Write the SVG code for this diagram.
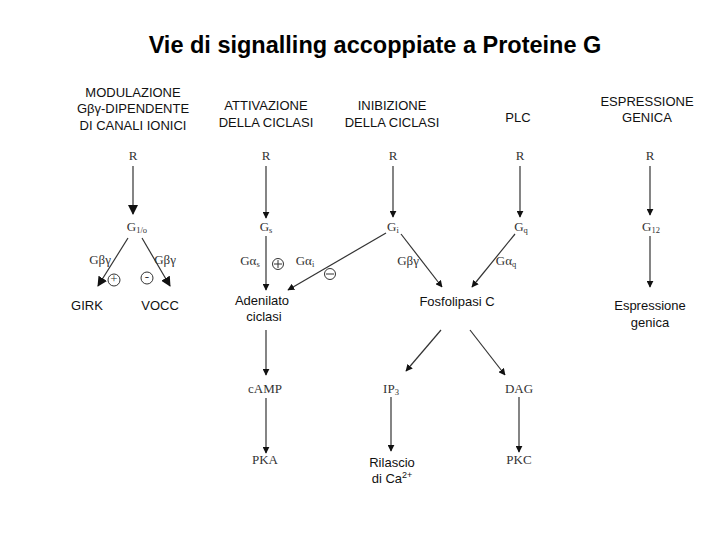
<svg xmlns="http://www.w3.org/2000/svg" width="720" height="540" viewBox="0 0 720 540">
<style>
.t{font-family:"Liberation Sans",Arial,sans-serif;font-size:23.5px;font-weight:bold;fill:#000}
.h{font-family:"Liberation Sans",Arial,sans-serif;font-size:13px;fill:#111;text-anchor:middle}
.s{font-family:"Liberation Serif","Times New Roman",serif;font-size:13px;fill:#333;text-anchor:middle}
.sub{font-size:8.5px}
.c{fill:none;stroke:#333;stroke-width:1}
.l{stroke:#333;stroke-width:1.2;fill:none}
</style>
<defs>
<marker id="ah" viewBox="0 0 10 10" refX="9" refY="5" markerWidth="7" markerHeight="7" markerUnits="userSpaceOnUse" orient="auto">
<path d="M0,0 L10,5 L0,10 z" fill="#111"/>
</marker>
<marker id="ahb" viewBox="0 0 10 10" refX="9" refY="5" markerWidth="10" markerHeight="10" markerUnits="userSpaceOnUse" orient="auto">
<path d="M0,0 L10,5 L0,10 z" fill="#111"/>
</marker>
</defs>
<rect width="720" height="540" fill="#fff"/>
<text class="t" x="375" y="53" text-anchor="middle">Vie di signalling accoppiate a Proteine G</text>

<g id="headers">
<text class="h" x="133" y="97">MODULAZIONE</text>
<text class="h" x="133" y="113">Gβγ-DIPENDENTE</text>
<text class="h" x="133" y="130">DI CANALI IONICI</text>
<text class="h" x="266" y="110">ATTIVAZIONE</text>
<text class="h" x="266" y="127">DELLA CICLASI</text>
<text class="h" x="392" y="110">INIBIZIONE</text>
<text class="h" x="392" y="127">DELLA CICLASI</text>
<text class="h" x="518" y="122">PLC</text>
<text class="h" x="647" y="106">ESPRESSIONE</text>
<text class="h" x="647" y="122">GENICA</text>
</g>

<g id="connectors">
<line class="l" x1="133" y1="166" x2="133" y2="214" marker-end="url(#ahb)"/>
<line class="l" x1="128" y1="238" x2="98" y2="286" marker-end="url(#ahb)"/>
<line class="l" x1="142" y1="238" x2="170" y2="286" marker-end="url(#ahb)"/>
<line class="l" x1="266" y1="166" x2="266" y2="218" marker-end="url(#ah)"/>
<line class="l" x1="266" y1="236" x2="266" y2="290" marker-end="url(#ah)"/>
<line class="l" x1="266" y1="330" x2="266" y2="375" marker-end="url(#ah)"/>
<line class="l" x1="266" y1="398" x2="266" y2="453" marker-end="url(#ah)"/>
<line class="l" x1="393" y1="166" x2="393" y2="217" marker-end="url(#ah)"/>
<line class="l" x1="386" y1="233" x2="288" y2="290" marker-end="url(#ah)"/>
<line class="l" x1="401" y1="234" x2="442" y2="287" marker-end="url(#ah)"/>
<line class="l" x1="520" y1="166" x2="520" y2="217" marker-end="url(#ah)"/>
<line class="l" x1="515" y1="234" x2="472" y2="287" marker-end="url(#ah)"/>
<line class="l" x1="441" y1="330" x2="406" y2="371" marker-end="url(#ah)"/>
<line class="l" x1="470" y1="330" x2="505" y2="375" marker-end="url(#ah)"/>
<line class="l" x1="391" y1="397" x2="391" y2="451" marker-end="url(#ah)"/>
<line class="l" x1="519" y1="397" x2="519" y2="452" marker-end="url(#ah)"/>
<line class="l" x1="650" y1="166" x2="650" y2="215" marker-end="url(#ah)"/>
<line class="l" x1="650" y1="236" x2="650" y2="287" marker-end="url(#ah)"/>
</g>

<g id="col1">
<text class="s" x="133" y="160">R</text>
<text class="s" x="137" y="231">G<tspan class="sub" dy="2">1/o</tspan></text>
<text class="s" x="100" y="264" font-size="12">Gβγ</text>
<text class="s" x="165" y="264" font-size="12">Gβγ</text>
<circle class="c" cx="114" cy="280" r="6"/>
<text class="s" x="114" y="283" font-size="8">+</text>
<circle class="c" cx="147" cy="278" r="6"/>
<text class="s" x="147" y="281" font-size="10">-</text>
<text class="h" x="87" y="310">GIRK</text>
<text class="h" x="160" y="310">VOCC</text>
</g>

<g id="col2">
<text class="s" x="266" y="160">R</text>
<text class="s" x="266" y="231">G<tspan class="sub" dy="2">s</tspan></text>
<text class="s" x="250" y="265">Gα<tspan class="sub" dy="2">s</tspan></text>
<circle class="c" cx="278" cy="264" r="5.5"/>
<path d="M274,264 H282 M278,260 V268" stroke="#333" stroke-width="1"/>
<text class="h" x="262" y="305">Adenilato</text>
<text class="h" x="264" y="321">ciclasi</text>
<text class="s" x="265" y="393">cAMP</text>
<text class="s" x="265" y="464">PKA</text>
</g>

<g id="col3">
<text class="s" x="393" y="160">R</text>
<text class="s" x="393" y="231">G<tspan class="sub" dy="2">i</tspan></text>
<text class="s" x="305" y="265">Gα<tspan class="sub" dy="2">i</tspan></text>
<circle class="c" cx="330" cy="274" r="5.5"/>
<path d="M326,274 H334" stroke="#333" stroke-width="1"/>
<text class="s" x="408" y="265" font-size="12">Gβγ</text>
</g>

<g id="col4">
<text class="s" x="520" y="160">R</text>
<text class="s" x="521" y="231">G<tspan class="sub" dy="2">q</tspan></text>
<text class="s" x="506" y="265">Gα<tspan class="sub" dy="2">q</tspan></text>
<text class="h" x="457" y="306">Fosfolipasi C</text>
<text class="s" x="391" y="393">IP<tspan class="sub" dy="2">3</tspan></text>
<text class="s" x="519" y="393">DAG</text>
<text class="h" x="392" y="467">Rilascio</text>
<text class="h" x="392" y="483">di Ca<tspan font-size="9" dy="-5">2+</tspan></text>
<text class="s" x="519" y="464">PKC</text>
</g>

<g id="col5">
<text class="s" x="650" y="160">R</text>
<text class="s" x="651" y="231">G<tspan class="sub" dy="2">12</tspan></text>
<text class="h" x="650" y="310">Espressione</text>
<text class="h" x="650" y="327">genica</text>
</g>
</svg>
